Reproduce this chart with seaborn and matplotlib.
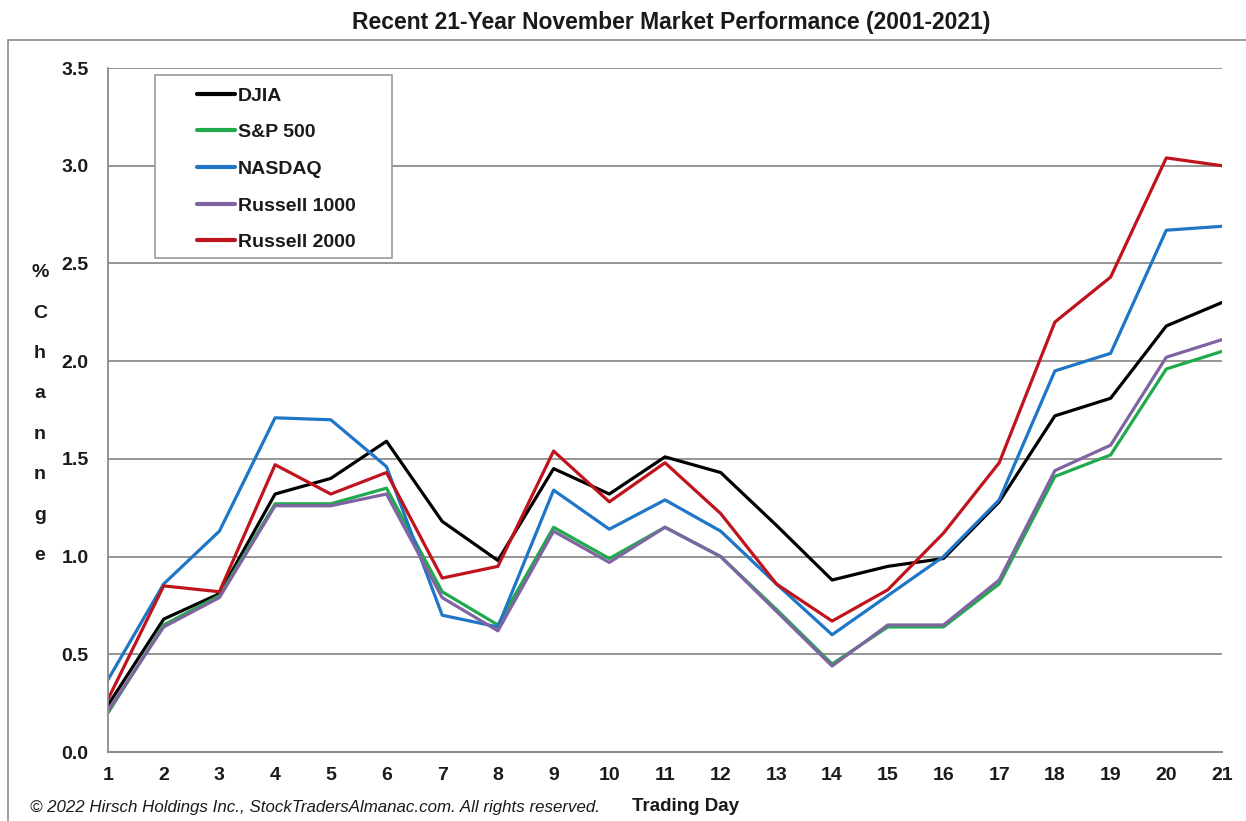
import matplotlib
matplotlib.use('Agg')
import matplotlib.pyplot as plt
import seaborn as sns
import pandas as pd
from matplotlib.patches import Rectangle

days = list(range(1, 22))
djia = [0.24, 0.68, 0.81, 1.32, 1.40, 1.59, 1.18, 0.98, 1.45, 1.32, 1.51, 1.43, 1.16, 0.88, 0.95, 0.99, 1.28, 1.72, 1.81, 2.18, 2.30]
sp500 = [0.20, 0.65, 0.80, 1.27, 1.27, 1.35, 0.82, 0.65, 1.15, 0.99, 1.15, 1.00, 0.73, 0.45, 0.64, 0.64, 0.86, 1.41, 1.52, 1.96, 2.05]
nasdaq = [0.37, 0.86, 1.13, 1.71, 1.70, 1.46, 0.70, 0.64, 1.34, 1.14, 1.29, 1.13, 0.86, 0.60, 0.80, 1.00, 1.29, 1.95, 2.04, 2.67, 2.69]
russell1000 = [0.21, 0.64, 0.79, 1.26, 1.26, 1.32, 0.79, 0.62, 1.13, 0.97, 1.15, 1.00, 0.72, 0.44, 0.65, 0.65, 0.88, 1.44, 1.57, 2.02, 2.11]
russell2000 = [0.27, 0.85, 0.82, 1.47, 1.32, 1.43, 0.89, 0.95, 1.54, 1.28, 1.48, 1.22, 0.86, 0.67, 0.83, 1.12, 1.48, 2.20, 2.43, 3.04, 3.00]

names = ['DJIA', 'S&P 500', 'NASDAQ', 'Russell 1000', 'Russell 2000']
colors = ['#000000', '#1faa4c', '#1f76c6', '#8064a2', '#c0141c']
series = [djia, sp500, nasdaq, russell1000, russell2000]

rows = []
for name, vals in zip(names, series):
    for d, v in zip(days, vals):
        rows.append({'day': d, 'value': v, 'index': name})
df = pd.DataFrame(rows)

sns.set_style('white')
fam = ['Liberation Sans', 'DejaVu Sans']
plt.rcParams['font.family'] = fam

W, H = 1246, 821
fig = plt.figure(figsize=(12.46, 8.21), dpi=100)
ax = fig.add_axes([108 / W, 1 - 752 / H, (1222 - 108) / W, (752 - 68) / H])

sns.lineplot(data=df, x='day', y='value', hue='index', hue_order=names,
             palette=dict(zip(names, colors)), linewidth=2.3, ax=ax)

ax.set_xlim(1, 21)
ax.set_ylim(0, 3.5)
ax.set_xticks(days)
ax.set_yticks([0, 0.5, 1.0, 1.5, 2.0, 2.5, 3.0, 3.5])
ax.set_yticklabels(['%.1f' % t for t in ax.get_yticks()])
ax.grid(axis='y', color='#8c8c8c', linewidth=1.3)
ax.set_axisbelow(True)
for s in ['top', 'right']:
    ax.spines[s].set_visible(False)
ax.spines['left'].set_color('#8c8c8c')
ax.spines['bottom'].set_color('#8c8c8c')
ax.spines['left'].set_linewidth(1.3)
ax.spines['bottom'].set_linewidth(1.5)
ax.tick_params(axis='both', direction='out', length=6, width=1.2, color='#8c8c8c',
               labelsize=14)
ax.tick_params(axis='y', pad=8)
ax.tick_params(axis='x', pad=5)
for lab in ax.get_xticklabels() + ax.get_yticklabels():
    lab.set_fontweight('bold')
    lab.set_color('#1a1a1a')
ax.set_xlabel('')
ax.set_ylabel('')

# legend box drawn separately so the inner padding can match the original
box_l, box_r, box_t, box_b = 155, 392, 75, 258
ax.add_patch(Rectangle((box_l / W, 1 - box_b / H), (box_r - box_l) / W, (box_b - box_t) / H,
                       transform=fig.transFigure, facecolor='white', clip_on=False,
                       edgecolor='#9a9a9a', linewidth=1.2, zorder=4))
handles, labels = ax.get_legend_handles_labels()
leg = ax.legend(handles, labels, loc='upper left',
                bbox_to_anchor=((196 - 108) / 1114 + 0.001, 1 - (87 - 68) / 684),
                frameon=False, prop={'family': fam, 'weight': 'bold', 'size': 14},
                handlelength=1.95, handletextpad=0.15, labelspacing=0.98,
                borderpad=0, borderaxespad=0)
leg.set_zorder(6)
for t in leg.get_texts():
    t.set_color('#1a1a1a')
for h in leg.legend_handles:
    h.set_linewidth(3)

fig.text(671 / W, 1 - 22 / H, 'Recent 21-Year November Market Performance (2001-2021)',
         ha='center', va='center', fontsize=16.5, fontweight='bold', color='#1a1a1a')
fig.text(40 / W, 1 - 414 / H, '%\nC\nh\na\nn\nn\ng\ne', ha='center', va='center',
         fontsize=14, fontweight='bold', color='#1a1a1a', linespacing=2.8)
fig.text(686 / W, 1 - 806 / H, 'Trading Day', ha='center', va='center',
         fontsize=13.5, fontweight='bold', color='#1a1a1a')
fig.text(30 / W, 1 - 807 / H,
         '\u00a9 2022 Hirsch Holdings Inc., StockTradersAlmanac.com. All rights reserved.',
         ha='left', va='center', fontsize=12.2, style='italic', color='#1a1a1a')

fig.patches.append(Rectangle((8 / W, -0.01), 1.1, 1 - 40 / H + 0.01,
                             transform=fig.transFigure, fill=False,
                             edgecolor='#8c8c8c', linewidth=1.2))

plt.savefig('out.png', dpi=100)
plt.close()
